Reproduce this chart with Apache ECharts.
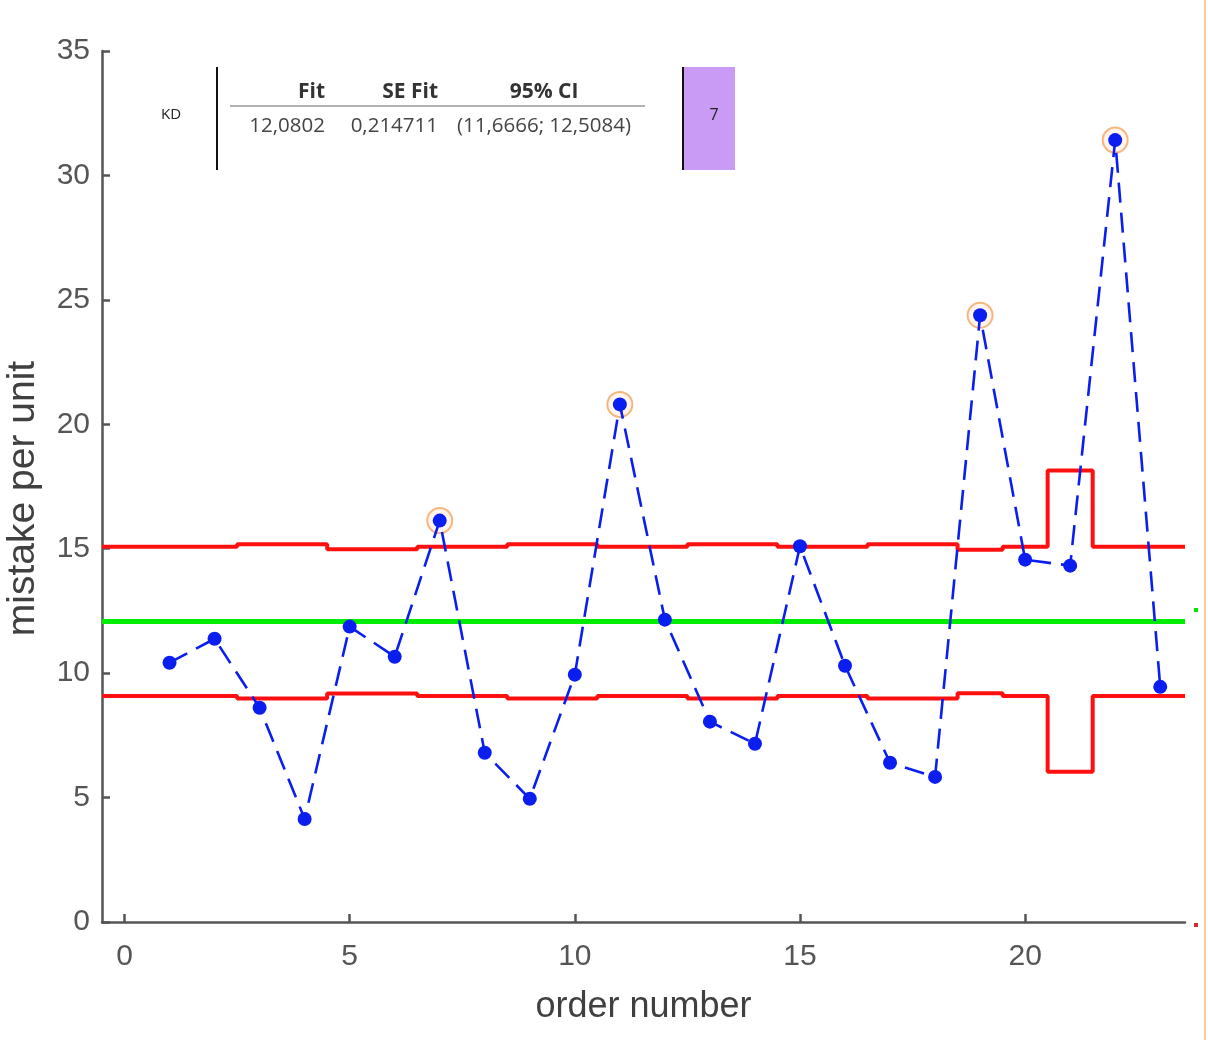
<!DOCTYPE html>
<html>
<head>
<meta charset="utf-8">
<script src="https://cdn.jsdelivr.net/npm/echarts@6/dist/echarts.min.js"></script>
<style>
html,body{margin:0;padding:0;background:#fff;}
#chart{width:1208px;height:1040px;}
</style>
</head>
<body>
<div id="chart"></div>
<script>
// ---- data ----
const orderNumbers = [1,2,3,4,5,6,7,8,9,10,11,12,13,14,15,16,17,18,19,20,21,22,23];
const mistakes = [10.42,11.38,8.61,4.14,11.87,10.66,16.13,6.80,4.95,9.94,20.80,12.15,8.05,7.16,15.10,10.30,6.40,5.83,24.38,14.56,14.32,31.42,9.45];
const ucl = [15.08,15.08,15.18,15.18,14.98,14.98,15.08,15.08,15.18,15.18,15.08,15.08,15.18,15.18,15.08,15.08,15.18,15.18,14.96,15.08,18.14,15.08,15.08];
const lcl = [9.08,9.08,8.98,8.98,9.18,9.18,9.08,9.08,8.98,8.98,9.08,9.08,8.98,8.98,9.08,9.08,8.98,8.98,9.19,9.08,6.04,9.08,9.08];
const flaggedOrders = [7,11,19,22];
const centerLine = 12.0802;
const xTickValues = [0,5,10,15,20];
const yTickInterval = 5;
const tableHeaders = ['Fit','SE Fit','95% CI'];
const tableValues = ['12,0802','0,214711','(11,6666; 12,5084)'];
const tableRowLabel = 'KD';
const sideBoxLabel = '7';

const X_MIN = -0.5, X_MAX = 23.55;

function stepData(vals){
  const out = [];
  vals.forEach((v,i)=>{
    const x = orderNumbers[i];
    const l = i===0 ? X_MIN : x-0.5;
    const r = i===vals.length-1 ? X_MAX : x+0.5;
    out.push([l,v]); out.push([r,v]);
  });
  return out;
}
const pts = orderNumbers.map((x,i)=>[x,mistakes[i]]);
const outPts = pts.filter(p=>flaggedOrders.indexOf(p[0])>=0);

const chart = echarts.init(document.getElementById('chart'), null, {renderer:'canvas'});
const axisColor = '#555555';
const fontFam = '"Liberation Sans", Arial, sans-serif';
const tblFont = '"Open Sans", "Noto Sans", sans-serif';

chart.setOption({
  animation:false,
  backgroundColor:'#ffffff',
  grid:{left:102,right:23,top:51,bottom:118,containLabel:false,outerBoundsMode:'none'},
  xAxis:{
    type:'value', min:X_MIN, max:X_MAX,
    name:'order number', nameLocation:'middle', nameGap:67,
    nameTextStyle:{fontSize:36,color:'#404040',fontFamily:fontFam},
    axisLine:{show:true,onZero:false,lineStyle:{color:axisColor,width:2.5}},
    axisTick:{show:true,inside:true,length:8,customValues:xTickValues,lineStyle:{color:axisColor,width:2.5}},
    axisLabel:{customValues:xTickValues,fontSize:30,color:'#555',fontFamily:fontFam,margin:20},
    splitLine:{show:false}
  },
  yAxis:{
    type:'value', min:0, max:35, interval:yTickInterval,
    name:'mistake per unit', nameLocation:'middle', nameGap:59, nameRotate:90,
    nameTextStyle:{fontSize:39,color:'#404040',fontFamily:fontFam,padding:[0,24,0,0]},
    axisLine:{show:true,onZero:false,lineStyle:{color:axisColor,width:2.5}},
    axisTick:{show:true,inside:true,length:8,lineStyle:{color:axisColor,width:2.5}},
    axisLabel:{fontSize:30,color:'#555',fontFamily:fontFam,margin:12},
    splitLine:{show:false}
  },
  series:[
    {type:'line',data:stepData(ucl),symbol:'none',silent:true,z:2,
     lineStyle:{color:'#ff1010',width:4}},
    {type:'line',data:stepData(lcl),symbol:'none',silent:true,z:2,
     lineStyle:{color:'#ff1010',width:4}},
    {type:'line',data:[[X_MIN,centerLine],[X_MAX,centerLine]],symbol:'none',silent:true,z:2,
     lineStyle:{color:'#00ec00',width:5}},
    {type:'scatter',data:outPts,symbol:'circle',symbolSize:25,z:3,
     itemStyle:{color:'rgba(255,235,215,0.6)',borderColor:'#f5a560',borderWidth:2}},
    {type:'line',data:pts,symbol:'circle',symbolSize:14,z:4,
     itemStyle:{color:'#0a1ef0'},
     lineStyle:{color:'#0a1ef0',width:2.6,type:[20,10]}}
  ],
  graphic:[
    {type:'line',shape:{x1:217,y1:67,x2:217,y2:170},style:{stroke:'#111',lineWidth:2}},
    {type:'text',x:171,y:115,style:{text:tableRowLabel,font:'15px '+tblFont,fill:'#222',align:'center',verticalAlign:'middle'}},
    {type:'text',x:325,y:92,style:{text:tableHeaders[0],font:'bold 21px '+tblFont,fill:'#333',align:'right',verticalAlign:'middle'}},
    {type:'text',x:438,y:92,style:{text:tableHeaders[1],font:'bold 21px '+tblFont,fill:'#333',align:'right',verticalAlign:'middle'}},
    {type:'text',x:544,y:92,style:{text:tableHeaders[2],font:'bold 21px '+tblFont,fill:'#333',align:'center',verticalAlign:'middle'}},
    {type:'line',shape:{x1:230,y1:106,x2:645,y2:106},style:{stroke:'#666',lineWidth:1.2}},
    {type:'text',x:325,y:126,style:{text:tableValues[0],font:'20.5px '+tblFont,fill:'#444',align:'right',verticalAlign:'middle'}},
    {type:'text',x:438,y:126,style:{text:tableValues[1],font:'20.5px '+tblFont,fill:'#444',align:'right',verticalAlign:'middle'}},
    {type:'text',x:544,y:126,style:{text:tableValues[2],font:'20.5px '+tblFont,fill:'#444',align:'center',verticalAlign:'middle'}},
    {type:'rect',shape:{x:683,y:67,width:52,height:103},style:{fill:'#c99bf5'}},
    {type:'line',shape:{x1:683,y1:67,x2:683,y2:170},style:{stroke:'#111',lineWidth:2}},
    {type:'text',x:714,y:115,style:{text:sideBoxLabel,font:'16px '+tblFont,fill:'#222',align:'center',verticalAlign:'middle'}},
    {type:'line',shape:{x1:1205,y1:0,x2:1205,y2:1040},style:{stroke:'#f7c9a0',lineWidth:2}},
    {type:'rect',shape:{x:1194,y:608,width:4,height:4},style:{fill:'#00e600'}},
    {type:'rect',shape:{x:1194,y:923,width:4,height:4},style:{fill:'#d03030'}}
  ]
});
</script>
</body>
</html>
